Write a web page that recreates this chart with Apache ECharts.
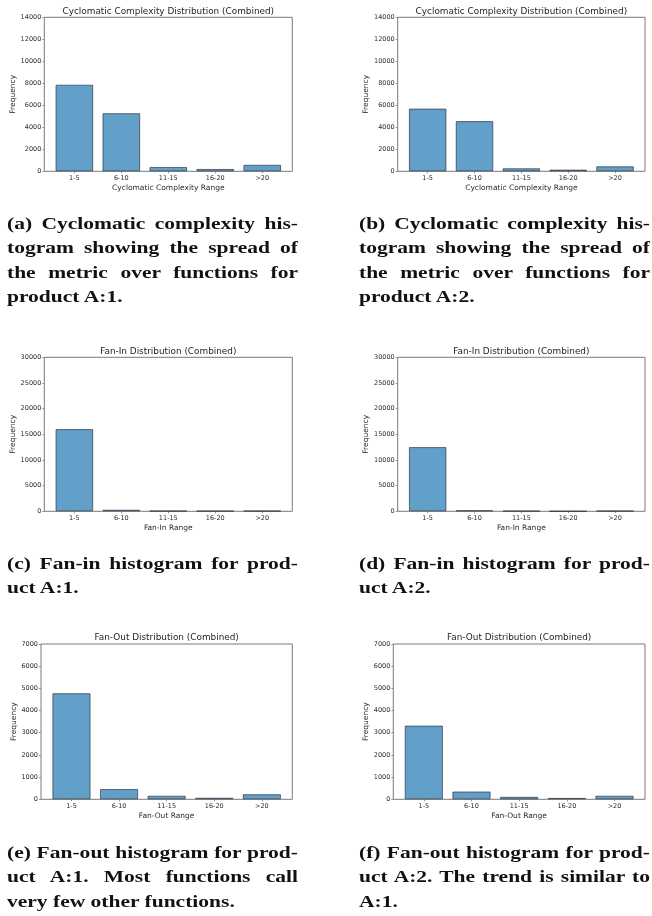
<!DOCTYPE html>
<html>
<head>
<meta charset="utf-8">
<script src="https://cdn.jsdelivr.net/npm/echarts@6/dist/echarts.min.js"></script>
<style>
  html, body { margin: 0; padding: 0; background: #ffffff; }
  #page { position: relative; width: 652px; height: 916px; overflow: hidden; }
  #chart { position: absolute; left: 0; top: 0; width: 652px; height: 916px; }
  .cap {
    position: absolute;
    font-family: "Liberation Serif", "Times New Roman", serif;
    font-weight: bold;
    font-size: 17px;
    line-height: 24.5px;
    color: #111;
    transform-origin: 0 0;
    white-space: nowrap;
  }
  .cap .ln { text-align: justify; text-align-last: justify; }
  .cap .ln.last { text-align: left; text-align-last: left; }
</style>
</head>
<body>
<div id="page">
  <div id="chart"></div>
</div>
<script>
// Histogram bins shared by all six panels
const bins = ['1-5', '6-10', '11-15', '16-20', '>20'];

// Function counts per bin
const cyclomaticA1 = [7870, 5280, 390, 210, 590];
const cyclomaticA2 = [5700, 4560, 270, 150, 450];
const fanInA1 = [16000, 300, 100, 80, 100];
const fanInA2 = [12500, 200, 80, 30, 100];
const fanOutA1 = [4780, 460, 160, 70, 230];
const fanOutA2 = [3320, 350, 110, 60, 160];

// Y-axis tick labels
const cyclomaticTicks = [0, 2000, 4000, 6000, 8000, 10000, 12000, 14000];
const fanInTicks = [0, 5000, 10000, 15000, 20000, 25000, 30000];
const fanOutTicks = [0, 1000, 2000, 3000, 4000, 5000, 6000, 7000];

// Panel titles and axis names
const titles = [
  'Cyclomatic Complexity Distribution (Combined)',
  'Fan-In Distribution (Combined)',
  'Fan-Out Distribution (Combined)'
];
const xNames = ['Cyclomatic Complexity Range', 'Fan-In Range', 'Fan-Out Range'];
const yName = 'Frequency';

// Sub-figure captions, one entry per printed line
const captions = [
  ['(a) Cyclomatic complexity his-', 'togram showing the spread of', 'the metric over functions for', 'product A:1.'],
  ['(b) Cyclomatic complexity his-', 'togram showing the spread of', 'the metric over functions for', 'product A:2.'],
  ['(c) Fan-in histogram for prod-', 'uct A:1.'],
  ['(d) Fan-in histogram for prod-', 'uct A:2.'],
  ['(e) Fan-out histogram for prod-', 'uct A:1. Most functions call', 'very few other functions.'],
  ['(f) Fan-out histogram for prod-', 'uct A:2. The trend is similar to', 'A:1.']
];

// Layout of each panel: plot frame [left, top, width, height], title centre y, y-name centre x
const panels = [
  { values: cyclomaticA1, ticks: cyclomaticTicks, kind: 0, frame: [44.3, 17.3, 248, 154], titleY: 11.5, yNameX: 14.7, cap: [7, 211.5] },
  { values: cyclomaticA2, ticks: cyclomaticTicks, kind: 0, frame: [397.7, 17.3, 247.3, 154], titleY: 11.5, yNameX: 367.3, cap: [359, 211.5] },
  { values: fanInA1, ticks: fanInTicks, kind: 1, frame: [44.3, 357.3, 248, 154], titleY: 351.5, yNameX: 14.7, cap: [7, 551.5] },
  { values: fanInA2, ticks: fanInTicks, kind: 1, frame: [397.7, 357.3, 247.3, 154], titleY: 351.5, yNameX: 367.3, cap: [359, 551.5] },
  { values: fanOutA1, ticks: fanOutTicks, kind: 2, frame: [41, 644, 251.3, 155.3], titleY: 637.8, yNameX: 14.7, cap: [7, 840.5] },
  { values: fanOutA2, ticks: fanOutTicks, kind: 2, frame: [393.3, 644, 251.7, 155.3], titleY: 637.8, yNameX: 367.3, cap: [359, 840.5] }
];

// x extent of a 5-bar matplotlib bar chart (bar width 0.8, 5% margins)
const X_MIN = -0.64, X_MAX = 4.64, BAR_FRAC = 0.8;
const binPos = bins.map((_, i) => i);

const FONT = '"DejaVu Sans", sans-serif';
const TEXT = '#2b2b2b';
const FRAME = '#7a7a7a';
const NAME_SIZE = 7.5;

const grid = [], xAxis = [], yAxis = [], series = [], graphic = [];

panels.forEach((p, i) => {
  const [l, t, w, h] = p.frame;
  grid.push({
    left: l, top: t, width: w, height: h,
    show: true, borderColor: FRAME, borderWidth: 1, backgroundColor: 'transparent',
    containLabel: false
  });
  xAxis.push({
    type: 'value', gridIndex: i, min: X_MIN, max: X_MAX,
    name: xNames[p.kind], nameLocation: 'middle', nameGap: 12.5,
    nameTextStyle: { fontFamily: FONT, fontSize: NAME_SIZE, color: TEXT },
    axisLine: { show: false, onZero: false },
    axisTick: { show: true, length: 2, customValues: binPos, lineStyle: { color: FRAME, width: 0.8 } },
    axisLabel: {
      show: true, customValues: binPos, margin: 3.5,
      fontFamily: FONT, fontSize: 6.5, color: TEXT,
      formatter: v => bins[Math.round(v)]
    },
    splitLine: { show: false }
  });
  const yMax = p.ticks[p.ticks.length - 1];
  const yStep = p.ticks[1] - p.ticks[0];
  yAxis.push({
    type: 'value', gridIndex: i, min: 0, max: yMax, interval: yStep,
    name: yName, nameLocation: 'middle', nameRotate: 90, nameGap: (l - p.yNameX) - 6.5,
    nameTextStyle: { fontFamily: FONT, fontSize: NAME_SIZE, color: TEXT },
    axisLine: { show: false, onZero: false },
    axisTick: { show: true, length: 2, lineStyle: { color: FRAME, width: 0.8 } },
    axisLabel: { margin: 3, fontFamily: FONT, fontSize: 6.5, color: TEXT, formatter: v => String(v) },
    splitLine: { show: false }
  });
  series.push({
    type: 'bar', xAxisIndex: i, yAxisIndex: i,
    data: p.values.map((v, k) => [binPos[k], v]),
    barWidth: w / (X_MAX - X_MIN) * BAR_FRAC,
    itemStyle: {
      color: 'rgba(31,119,180,0.7)',
      borderColor: 'rgba(35,45,58,0.72)',
      borderWidth: 0.9
    },
    emphasis: { disabled: true },
    animation: false
  });
  graphic.push({
    type: 'text', x: l + w / 2, y: p.titleY,
    style: {
      text: titles[p.kind], textAlign: 'center', textVerticalAlign: 'middle',
      fontFamily: FONT, fontSize: 8.9, fill: '#1e1e1e'
    },
    silent: true
  });
});

const chart = echarts.init(document.getElementById('chart'), null, { renderer: 'canvas', width: 652, height: 916 });
chart.setOption({
  backgroundColor: '#ffffff',
  animation: false,
  grid, xAxis, yAxis, series, graphic
});

// Captions under each panel
const CAP_SCALE = 1.265, CAP_WIDTH = 291;
const page = document.getElementById('page');
panels.forEach((p, i) => {
  const div = document.createElement('div');
  div.className = 'cap';
  div.style.left = p.cap[0] + 'px';
  div.style.top = p.cap[1] + 'px';
  div.style.width = (CAP_WIDTH / CAP_SCALE) + 'px';
  div.style.transform = 'scaleX(' + CAP_SCALE + ')';
  captions[i].forEach((line, k) => {
    const ln = document.createElement('div');
    ln.className = 'ln' + (k === captions[i].length - 1 ? ' last' : '');
    ln.textContent = line;
    div.appendChild(ln);
  });
  page.appendChild(div);
});
</script>
</body>
</html>
